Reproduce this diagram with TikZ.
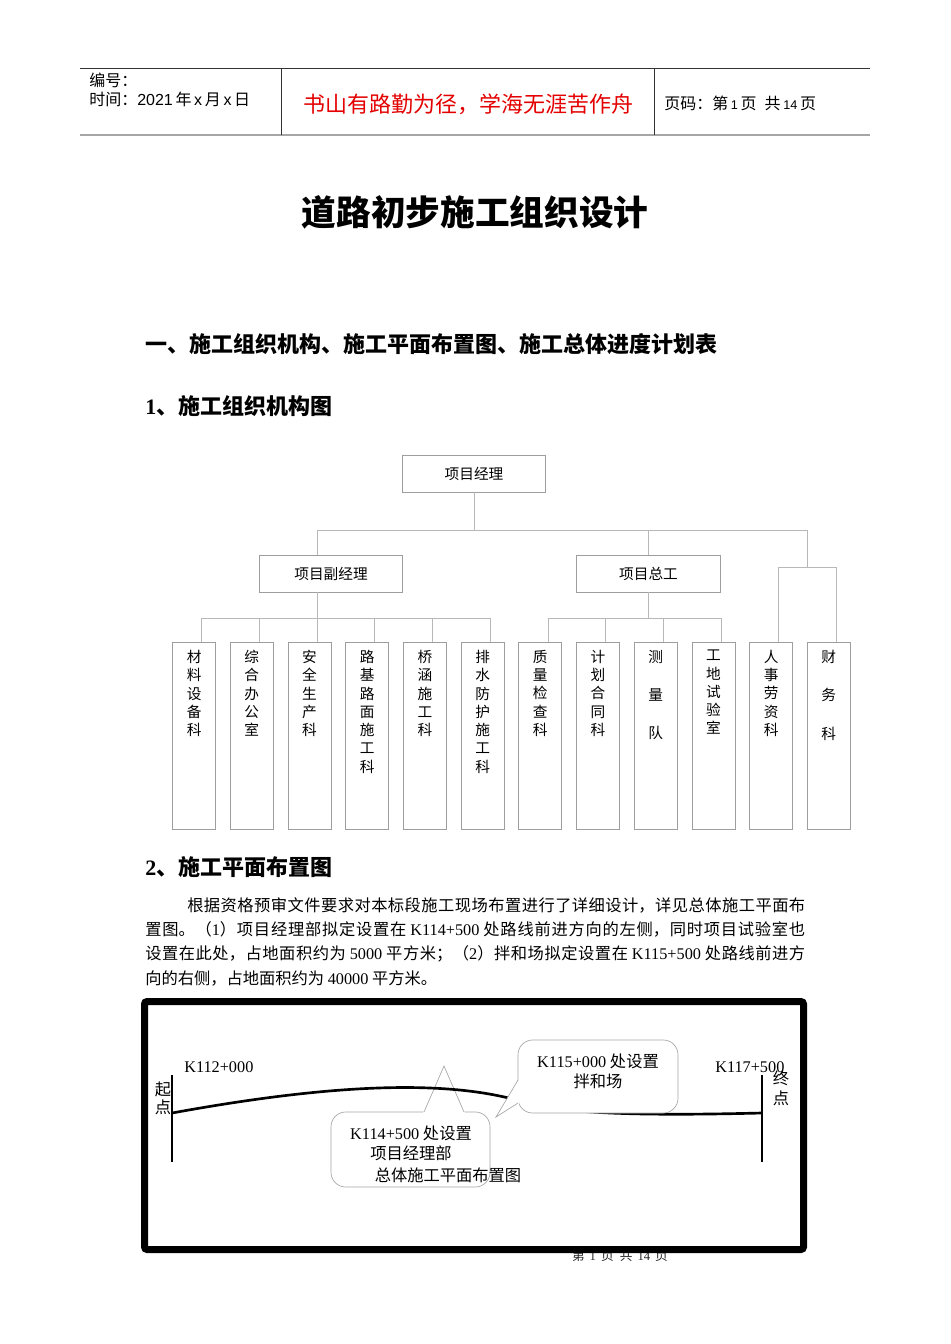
\documentclass[tikz,border=0pt]{standalone}
\usepackage{fontspec}
\setmainfont{Noto Sans CJK SC}
\newfontfamily\tnr{Liberation Serif}
\newfontfamily\arial{Liberation Sans}
\XeTeXlinebreaklocale "zh"
\XeTeXlinebreakskip=0pt plus 3pt
\definecolor{boxgray}{gray}{0.62}
\definecolor{linegray}{gray}{0.72}
\definecolor{mottored}{RGB}{228,0,0}
\tikzset{
  orgline/.style={draw=linegray, line width=0.6pt},
  orgbox/.style={draw=boxgray, line width=0.6pt, minimum width=107.5pt, minimum height=27.75pt,
    inner sep=0pt, font=\fontsize{11pt}{13pt}\selectfont},
  deptbox/.style={draw=boxgray, line width=0.6pt, minimum width=32.25pt, minimum height=140.25pt,
    inner xsep=4pt, inner ysep=6pt, font=\fontsize{11pt}{13.7pt}\selectfont},
  body/.style={inner sep=0pt, font=\fontsize{12.2pt}{15pt}\selectfont},
  heading/.style={inner sep=0pt, anchor=west, font=\fontsize{16.5pt}{18pt}\selectfont\bfseries},
  callout/.style={draw=gray!70, line width=0.5pt, fill=white, rounded corners=11pt},
  calloutline/.style={draw=gray!70, line width=0.5pt},
  road/.style={line width=2pt},
  post/.style={line width=2.2pt}
}
\begin{document}
\begin{tikzpicture}[x=0.75pt,y=-0.75pt]
\fill[white] (0,0) rectangle (950,1344);
\useasboundingbox (0,0) rectangle (950,1344);

% page header
\draw[gray!40!black, line width=0.7pt] (80,68) -- (870,68);
\draw[gray!70, line width=1.6pt] (80,135) -- (870,135);
\draw[gray!40!black, line width=0.7pt] (281,68) -- (281,135);
\draw[gray!40!black, line width=0.7pt] (654,68) -- (654,135);
\node[anchor=west, inner sep=0pt, font=\fontsize{12pt}{13pt}\selectfont] (serial) at (89,80) {编号：};
\node[anchor=west, inner sep=0pt, font=\fontsize{12pt}{13pt}\selectfont] (date) at (89,99)
  {时间：{\arial 2021}\,年\,{\arial x}\,月\,{\arial x}\,日};
\node[text=mottored, inner sep=0pt, font=\fontsize{16.5pt}{18pt}\selectfont] (motto) at (468,104)
  {书山有路勤为径，学海无涯苦作舟};
\node[anchor=west, inner sep=0pt, font=\fontsize{12pt}{13pt}\selectfont] (pageno) at (664,103)
  {页码：第\,{\arial\fontsize{9.5pt}{10pt}\selectfont 1}\,页\enspace 共\,{\arial\fontsize{9.5pt}{10pt}\selectfont 14}\,页};

% titles
\node[inner sep=0pt, font=\fontsize{26pt}{28pt}\selectfont\bfseries] (title) at (475,212) {道路初步施工组织设计};
\node[heading] (sec1) at (145,344) {一、施工组织机构、施工平面布置图、施工总体进度计划表};
\node[heading] (sub1) at (145,406) {{\tnr\bfseries 1}、施工组织机构图};

% organisation chart
\node[orgbox] (pm) at (474,473.5) {项目经理};
\node[orgbox] (vice) at (331,573.5) {项目副经理};
\node[orgbox] (chief) at (648.5,573.5) {项目总工};
\foreach \i/\txt in {1/{材\\料\\设\\备\\科}, 2/{综\\合\\办\\公\\室}, 3/{安\\全\\生\\产\\科},
    4/{路\\基\\路\\面\\施\\工\\科}, 5/{桥\\涵\\施\\工\\科}, 6/{排\\水\\防\\护\\施\\工\\科},
    7/{质\\量\\检\\查\\科}, 8/{计\\划\\合\\同\\科}, 9/{测\\[15pt]量\\[15pt]队},
    10/{工\\地\\试\\验\\室}, 11/{人\\事\\劳\\资\\科}, 12/{财\\[15pt]务\\[15pt]科}} {
  \node[deptbox] (d\i) at ({194.1+57.7*(\i-1)},735.5) {\parbox[t][128pt][t]{24pt}{\centering \txt}};
  \coordinate (t\i) at ([xshift=5.7pt]d\i.north);
}
\coordinate (hbus) at (0,530);
\coordinate (rbus) at (0,567);
\coordinate (lbus) at (0,618);
\coordinate (top-l) at (317,530);
\coordinate (top-r) at (807.5,530);
\draw[orgline] (pm.south) -- (pm.south |- hbus);
\draw[orgline] (top-l) -- (top-r);
\draw[orgline] (top-l) -- (top-l |- vice.north);
\draw[orgline] (top-l |- vice.south) -- (top-l |- lbus);
\draw[orgline] (chief.north) -- (chief.north |- hbus);
\draw[orgline] (chief.south) -- (chief.south |- lbus);
\draw[orgline] (top-r) -- (top-r |- rbus);
\draw[orgline] (t1 |- lbus) -- (t6 |- lbus);
\draw[orgline] (t7 |- lbus) -- (t10 |- lbus);
\draw[orgline] (t11 |- rbus) -- (t12 |- rbus);
\foreach \i in {1,...,10} \draw[orgline] (t\i |- lbus) -- (t\i);
\foreach \i in {11,12} \draw[orgline] (t\i |- rbus) -- (t\i);

% site layout
\node[heading] (sub2) at (145,867) {{\tnr\bfseries 2}、施工平面布置图};
\node[body, anchor=base west, text width=495pt, align=justify,
  font=\fontsize{12.2pt}{18.25pt}\selectfont] (para) at (145,911)
  {\hspace*{31.5pt}根据资格预审文件要求对本标段施工现场布置进行了详细设计，详见总体施工平面布\linebreak
   置图。（{\tnr 1}）项目经理部拟定设置在 {\tnr K114+500} 处路线前进方向的左侧，同时项目试验室也\linebreak
   设置在此处，占地面积约为 {\tnr 5000} 平方米；（{\tnr 2}）拌和场拟定设置在 {\tnr K115+500} 处路线前进方\linebreak
   向的右侧，占地面积约为 {\tnr 40000} 平方米。};

\node[font=\fontsize{9.5pt}{10pt}\selectfont, text=black!85, inner sep=0pt] (foot) at (620,1256)
  {第 \,{\tnr 1}\, 页\enspace 共 \,{\tnr 14}\, 页};

% callout for project office
\node[callout, minimum width=119.25pt, minimum height=56.25pt] (c1) at (410.5,1149.5) {};
\coordinate (c1-tip) at (444,1066);
\fill[white] (423,1113) -- (c1-tip) -- (465,1113) -- cycle;
\draw[calloutline] (424,1112) -- (c1-tip) -- (464,1112);
\node[body, align=center] (c1-text) at (411,1143) {{\tnr K114+500} 处设置\\项目经理部};

% road
\coordinate (s-top) at (172,1075);
\coordinate (s-bot) at (172,1162);
\coordinate (e-top) at (762,1075);
\coordinate (e-bot) at (762,1162);
\draw[post] (s-top) -- (s-bot);
\draw[post] (e-top) -- (e-bot);
\draw[road] (172,1113) .. controls (320,1086) and (440,1078) .. (520,1101)
  .. controls (560,1114) and (640,1116) .. (762,1113);

% callout for mixing plant
\node[callout, minimum width=120pt, minimum height=54.75pt] (c2) at (598,1076.5) {};
\coordinate (c2-tip) at (496,1117);
\fill[white] (519,1079) -- (c2-tip) -- (519,1104) -- cycle;
\draw[calloutline] (518,1080) -- (c2-tip) -- (518,1103);
\node[body, align=center] (c2-text) at (598,1071) {{\tnr K115+000} 处设置\\拌和场};

\node[body, anchor=west] (k112) at (184,1067) {\tnr K112+000};
\node[body, anchor=west] (k117) at (715,1067) {\tnr K117+500};
\node[body, align=center, font=\fontsize{12.2pt}{13.5pt}\selectfont] (start) at (163,1098) {起\\点};
\node[body, align=center, font=\fontsize{12.2pt}{15pt}\selectfont] (end) at (781,1088) {终\\点};
\node[body] (caption) at (448,1175) {总体施工平面布置图};

% frame
\draw[line width=5.25pt, rounded corners=2pt] (144.5,1001.5) rectangle (803.5,1249.5);
\end{tikzpicture}
\end{document}
